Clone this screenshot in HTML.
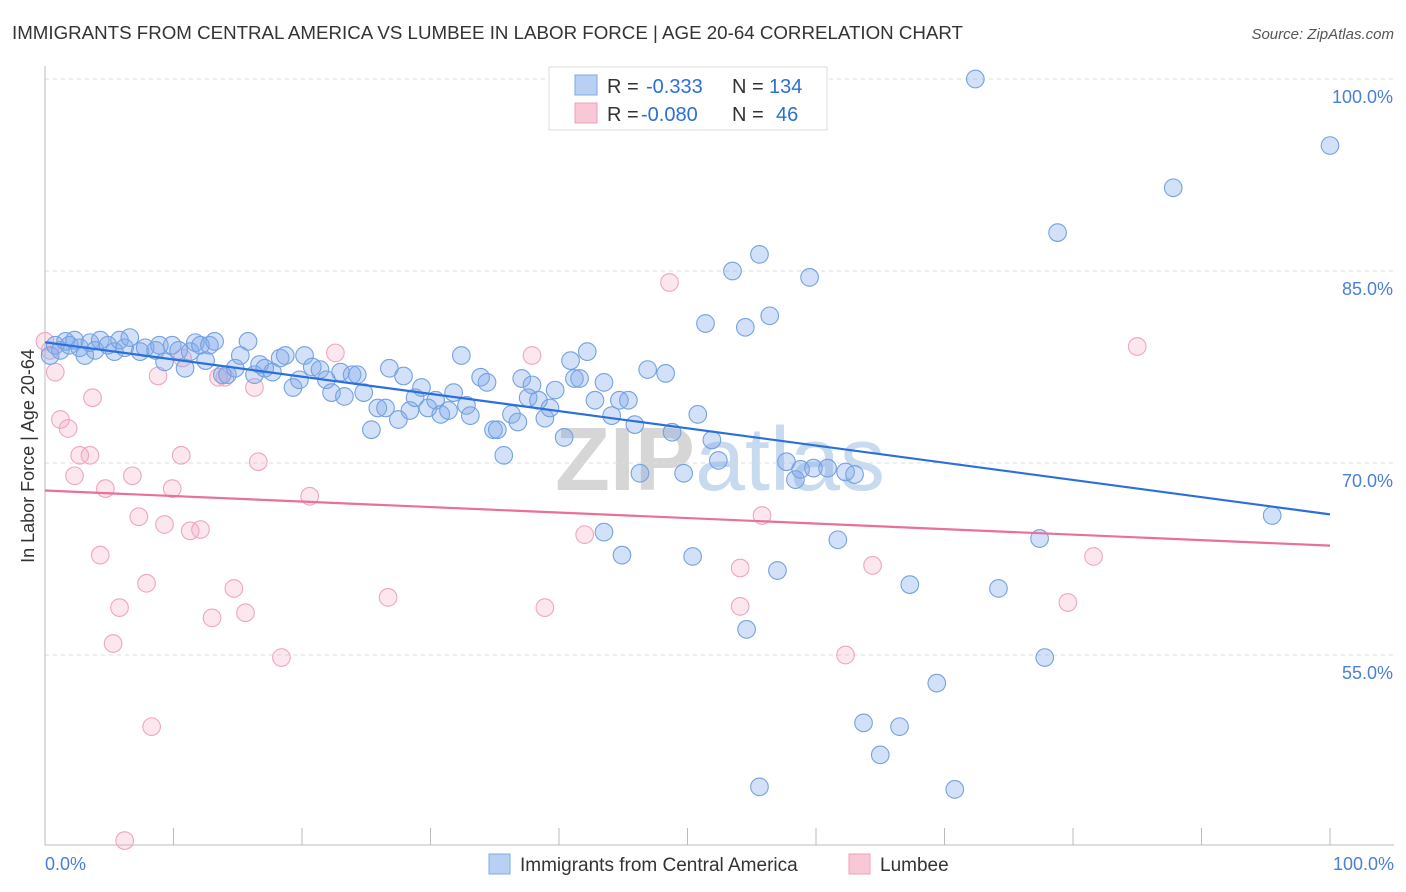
<!DOCTYPE html>
<html><head><meta charset="utf-8"><style>
body{margin:0;background:#fff;font-family:"Liberation Sans",sans-serif;}
svg{display:block}
</style></head><body>
<svg id="chart" width="1406" height="892">
<text x="12" y="39" font-size="18" fill="#333" textLength="951" lengthAdjust="spacingAndGlyphs">IMMIGRANTS FROM CENTRAL AMERICA VS LUMBEE IN LABOR FORCE | AGE 20-64 CORRELATION CHART</text>
<text x="1394" y="39" font-size="15" fill="#555" font-style="italic" text-anchor="end">Source: ZipAtlas.com</text>
<text x="720" y="490" font-size="90" fill="#ddd" text-anchor="middle" font-weight="bold"><tspan fill="#d6d6d6">ZIP</tspan><tspan fill="#c8daf0" font-weight="normal">atlas</tspan></text>
<g id="grid"></g><g id="axes"></g><g id="pts"></g><g id="lines"></g>
<text transform="translate(34,456) rotate(-90)" font-size="18" fill="#333" text-anchor="middle">In Labor Force | Age 20-64</text>
<text x="45" y="870" font-size="18" fill="#4a7fd6">0.0%</text>
<text x="1394" y="870" font-size="18" fill="#4a7fd6" text-anchor="end">100.0%</text>
<g>
<rect x="549" y="67" width="278" height="63" fill="#fff" stroke="#ddd"/>
<rect x="575" y="75" width="22" height="20" fill="#b8d0f4" stroke="#7fa8e0"/>
<rect x="575" y="103" width="22" height="20" fill="#f8c8d6" stroke="#eea0b8"/>
<text x="607" y="93" font-size="20" fill="#333">R = <tspan fill="#2a6fdb" x="646">-0.333</tspan><tspan x="732" fill="#333">N =</tspan><tspan x="769" fill="#2a6fdb">134</tspan></text>
<text x="607" y="121" font-size="20" fill="#333">R = <tspan fill="#2a6fdb" x="641">-0.080</tspan><tspan x="732" fill="#333">N =</tspan><tspan x="776" fill="#2a6fdb">46</tspan></text>
</g>
<g>
<rect x="489" y="854" width="21" height="20" fill="#b8d0f4" stroke="#7fa8e0"/>
<text x="520" y="871" font-size="19" fill="#333">Immigrants from Central America</text>
<rect x="849" y="854" width="21" height="20" fill="#f8c8d6" stroke="#eea0b8"/>
<text x="880" y="871" font-size="19" fill="#333">Lumbee</text>
</g>
</svg>
<script>
const yTicks=[100,85,70,55];
const yTickLabels=["100.0%","85.0%","70.0%","55.0%"];
const xTicks=[10,20,30,40,50,60,70,80,90,100];
const blueX=[0.4,0.8,1.2,1.6,1.9,2.3,2.7,3.1,3.5,3.9,4.3,4.9,5.4,5.8,6.2,6.6,7.4,7.8,8.6,8.9,9.3,9.9,10.4,10.9,11.3,11.7,12.1,12.5,12.8,13.2,13.8,14.2,14.8,15.2,15.8,16.3,16.7,17.1,17.7,18.3,18.7,19.3,19.8,20.2,20.8,21.4,21.9,22.3,23.0,23.3,23.9,24.3,24.8,25.4,25.9,26.5,26.8,27.5,27.9,28.4,28.8,29.3,29.8,30.4,30.8,31.4,31.8,32.4,32.8,33.1,33.9,34.4,34.9,35.2,35.7,36.3,36.8,37.1,37.6,37.9,38.4,38.9,39.3,39.7,40.4,40.9,41.2,41.6,42.2,42.8,43.5,44.1,44.7,45.4,45.9,46.3,46.9,48.3,48.8,49.7,50.8,51.4,51.9,52.4,53.5,54.5,55.6,56.4,57.7,58.4,58.8,59.5,59.8,60.9,61.7,62.3,63.0,63.7,66.5,65.0,67.3,69.4,70.8,74.2,77.4,77.8,78.8,87.8,95.5,100,72.4,47.7,49.3,43.5,44.9,50.4,54.6,55.6,57.0];
const blueY=[78.4,79.2,78.8,79.5,79.2,79.6,79.0,78.4,79.4,78.8,79.6,79.2,78.7,79.6,79.0,79.8,78.7,79.0,78.8,79.2,77.9,79.2,78.8,77.4,78.7,79.4,79.2,78.0,79.2,79.5,76.9,76.9,77.4,78.4,79.5,76.9,77.7,77.4,77.1,78.2,78.4,75.9,76.5,78.4,77.5,77.3,76.5,75.5,77.1,75.2,76.9,76.9,75.5,72.6,74.3,74.3,77.4,73.4,76.8,74.1,75.1,75.9,74.3,74.9,73.8,74.1,75.5,78.4,74.5,73.7,76.7,76.3,72.6,72.6,70.6,73.8,73.2,76.6,75.1,76.1,74.9,73.5,74.3,75.7,72.0,78.0,76.6,76.6,78.7,74.9,76.3,73.7,74.9,74.9,73.0,69.2,77.3,77.0,72.4,69.2,73.8,80.9,71.8,70.2,85.0,80.6,86.3,81.5,70.1,68.7,69.5,84.5,69.6,69.6,64.0,69.3,69.1,49.7,49.4,47.2,60.5,52.8,44.5,60.2,64.1,54.8,88.0,91.5,65.9,94.8,100,99.9,99.9,64.6,62.8,62.7,57.0,44.7,61.6];
const pinkX=[0,0.4,0.8,1.2,1.8,2.3,2.7,3.5,3.7,4.3,4.7,5.3,5.8,6.2,6.8,7.3,7.9,8.3,8.8,9.3,9.9,10.6,10.7,11.3,12.1,13.0,13.5,14.0,14.7,15.6,16.3,16.6,18.4,20.6,22.6,26.7,37.9,38.9,42.0,48.6,54.1,54.1,55.8,62.3,64.4,79.6,81.6,85.0];
const pinkY=[79.5,78.8,77.1,73.4,72.7,69.0,70.6,70.6,75.1,62.8,68.0,55.9,58.7,40.5,69.0,65.8,60.6,49.4,76.8,65.2,68.0,70.6,78.2,64.7,64.8,57.9,76.7,76.7,60.2,58.3,75.9,70.1,54.8,67.4,78.6,59.5,78.4,58.7,64.4,84.1,61.8,58.8,65.9,55.0,62.0,59.1,62.7,79.1];
const NS="http://www.w3.org/2000/svg";
const X=v=>45+v*12.85, Y=v=>79+(100-v)*12.8;
function mk(tag,at,parent){const e=document.createElementNS(NS,tag);for(const k in at)e.setAttribute(k,at[k]);parent.appendChild(e);return e;}
const grid=document.getElementById('grid'),axes=document.getElementById('axes'),pts=document.getElementById('pts'),lines=document.getElementById('lines');
yTicks.forEach((t,i)=>{
 const l=mk('line',{x1:45,x2:1394,y1:Y(t),y2:Y(t),stroke:'#ddd','stroke-dasharray':'4,4'},grid);
 
 
 const tx=mk('text',{x:1393,y:Y(t)+24,'font-size':18,fill:'#4a7fd6','text-anchor':'end'},grid);
 tx.textContent=yTickLabels[i];
 
 
});
const ya=mk('line',{x1:45,x2:45,y1:66,y2:845,stroke:'#bbb'},axes);


const xa=mk('line',{x1:45,x2:1394,y1:845,y2:845,stroke:'#bbb'},axes);


xTicks.forEach(t=>{
 const l=mk('line',{x1:X(t),x2:X(t),y1:828,y2:845,stroke:'#bbb'},axes);
 
 
});
function draw(xs,ys,fill,stroke,name){
 xs.forEach((v,i)=>{
  const c=mk('circle',{cx:X(v),cy:Y(ys[i]),r:8.8,fill:fill,stroke:stroke,'stroke-width':1.1},pts);
  
  
 });
}
draw(pinkX,pinkY,'rgba(245,170,195,0.28)','#eea6bd','lumbee-point');
draw(blueX,blueY,'rgba(130,170,235,0.35)','#74a2e0','central-america-point');
function reg(xs,ys){const n=xs.length;let sx=0,sy=0,sxx=0,sxy=0;for(let i=0;i<n;i++){sx+=xs[i];sy+=ys[i];sxx+=xs[i]*xs[i];sxy+=xs[i]*ys[i];}const b=(n*sxy-sx*sy)/(n*sxx-sx*sx);return [ (sy-b*sx)/n, b];}
function trend(xs,ys,col,name){const [a,b]=reg(xs,ys);
 const l=mk('line',{x1:X(0),y1:Y(a),x2:X(100),y2:Y(a+100*b),stroke:col,'stroke-width':2.2},lines);
 
 
}
trend(blueX,blueY,'#2a6fdb','central-america-trend-line');
trend(pinkX,pinkY,'#e8709a','lumbee-trend-line');
</script>
</body></html>
